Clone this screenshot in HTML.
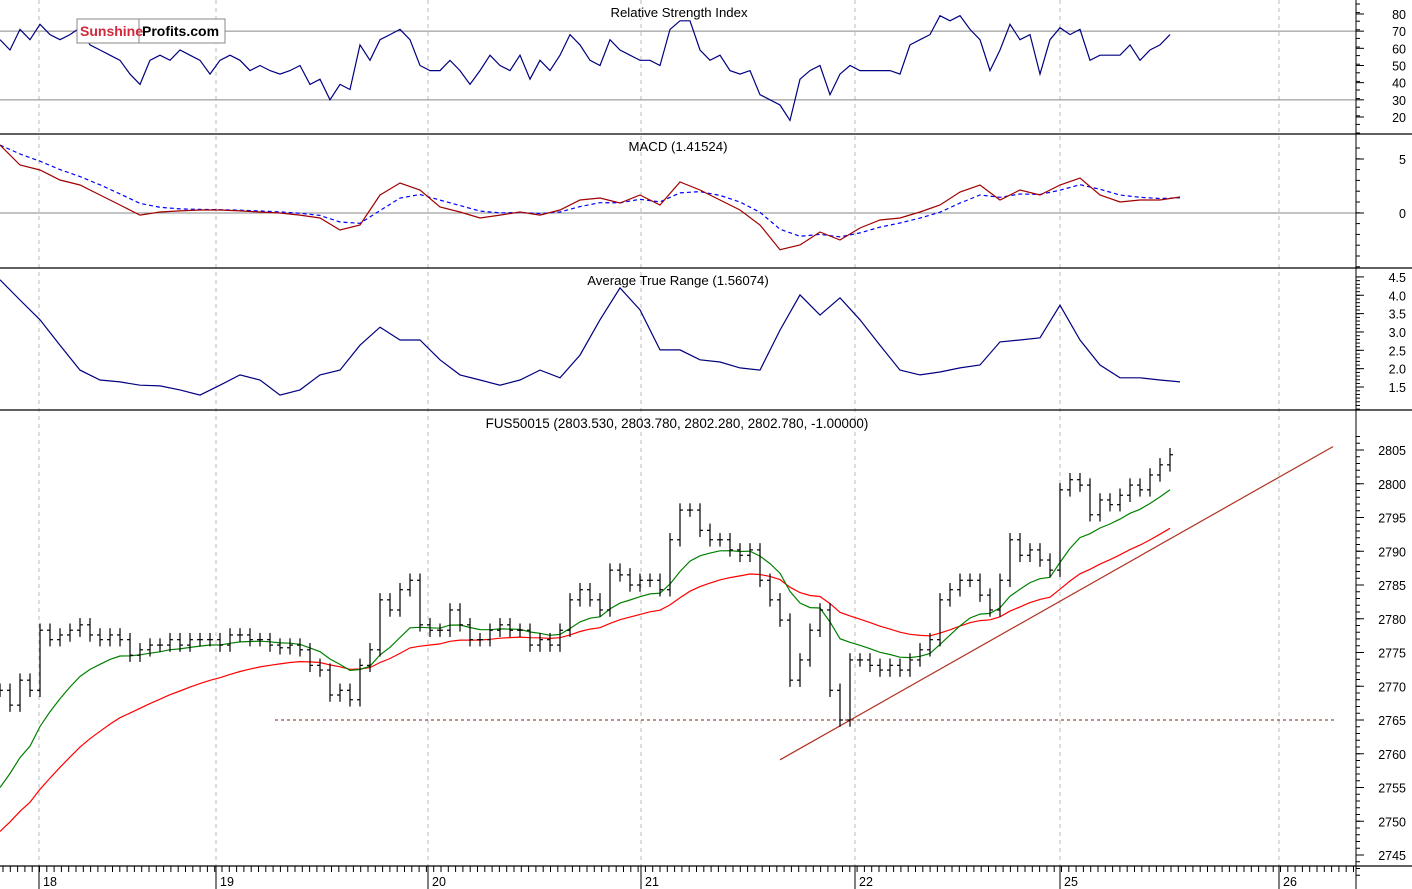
<!DOCTYPE html>
<html><head><meta charset="utf-8"><style>
html,body{margin:0;padding:0;background:#fff;}
svg{display:block;font-family:"Liberation Sans",Arial,sans-serif;}
</style></head><body>
<svg id="chart" width="1412" height="889" viewBox="0 0 1412 889" xmlns="http://www.w3.org/2000/svg">
<rect x="0" y="0" width="1412" height="889" fill="#fff"/>
<g id="grid"></g><g id="marks"></g><g id="axes"></g>
<g>
<rect x="77" y="19" width="148" height="24" fill="#fff" stroke="#888"/>
<line x1="139" y1="19" x2="139" y2="43" stroke="#888"/>
<text x="80" y="36" font-size="14" font-weight="bold" fill="#d0283c">Sunshine</text>
<text x="142" y="36" font-size="14" font-weight="bold" fill="#000">Profits.com</text>
</g>
</svg>
<script>
const dayLabels=["18","19","20","21","22","25","26"];
const dayX=[39,216,428,641,855,1060,1279];
const closes=[2769.4,2767.2,2770.9,2769.4,2778.3,2776.9,2777.6,2778.3,2779.1,2777.6,
2776.9,2777.6,2776.9,2774.6,2775.4,2776.1,2776.1,2776.9,2776.1,2776.9,
2776.9,2776.9,2776.1,2777.6,2777.6,2776.9,2776.9,2776.1,2775.7,2776.1,
2775.4,2773.1,2772.4,2768.7,2769.4,2768.0,2773.1,2775.4,2782.8,2781.3,
2784.3,2785.7,2779.1,2778.3,2778.3,2781.3,2779.1,2776.9,2776.9,2778.3,
2779.1,2778.3,2778.3,2776.1,2776.9,2776.1,2778.3,2782.8,2784.3,2782.8,
2781.3,2787.2,2786.5,2785.0,2785.7,2785.7,2784.3,2791.7,2796.1,2796.1,
2793.1,2791.7,2791.7,2790.2,2789.4,2790.2,2785.7,2782.8,2779.8,2770.9,
2773.9,2778.3,2781.3,2769.4,2765.0,2773.9,2773.9,2773.1,2772.4,2773.1,
2772.4,2773.9,2775.4,2776.9,2782.8,2784.3,2785.7,2785.7,2783.5,2781.3,
2785.7,2791.7,2789.4,2790.2,2788.7,2787.2,2799.1,2800.6,2799.8,2795.4,
2797.6,2796.9,2798.3,2799.8,2799.1,2801.3,2802.8,2804.3];
const rsi=[65,59,71,65,74,68,65,68,72,62,59,56,53,45,39,53,56,53,59,56,
53,45,53,56,53,47,50,47,45,47,50,39,42,30,39,36,62,53,65,68,
71,65,50,47,47,53,47,39,47,56,50,47,56,42,53,47,56,68,62,53,
50,65,59,56,53,53,50,71,76,76,59,53,56,47,45,47,33,30,27,18,
42,47,50,33,45,50,47,47,47,47,45,62,65,68,79,76,79,71,65,47,
59,74,65,68,45,65,72,68,71,53,56,56,56,62,53,59,62,68];
const macd=[6.30,4.44,3.98,3.06,2.59,1.67,0.74,-0.19,0.09,0.19,0.28,0.28,0.19,0.09,0,-0.19,-0.46,-1.57,-1.11,1.67,
2.78,2.13,0.56,0.09,-0.46,-0.19,0.09,-0.19,0.28,1.20,1.39,0.93,1.67,0.74,2.87,2.13,1.20,0.28,-1.11,-3.4,
-2.96,-1.76,-2.50,-1.39,-0.65,-0.46,0.09,0.74,1.94,2.59,1.20,2.13,1.67,2.59,3.24,1.67,1.02,1.20,1.20,1.48];
const atr=[4.42,3.87,3.33,2.64,1.96,1.69,1.64,1.55,1.53,1.42,1.28,1.55,1.83,1.69,1.28,1.42,1.83,1.96,2.64,3.13,
2.78,2.78,2.24,1.83,1.69,1.55,1.69,1.96,1.75,2.37,3.33,4.20,3.60,2.51,2.51,2.24,2.18,2.02,1.96,3.05,
4.01,3.46,3.93,3.33,2.64,1.96,1.83,1.91,2.02,2.10,2.73,2.78,2.84,3.73,2.78,2.10,1.75,1.75,1.69,1.64];
const priceTicks=[2805,2800,2795,2790,2785,2780,2775,2770,2765,2760,2755,2750,2745];
const rsiTicks=[80,70,60,50,40,30,20];
const macdTicks=[5,0];
const atrTicks=["4.5","4.0","3.5","3.0","2.5","2.0","1.5"];
const supportLevel=2765;
const trendStart=[78,2759.1], trendEnd=[133.3,2805.5];

const NS="http://www.w3.org/2000/svg";
const grid=document.getElementById('grid'),marks=document.getElementById('marks'),axes=document.getElementById('axes');
function el(tag,attrs,parent){const e=document.createElementNS(NS,tag);for(const k in attrs)e.setAttribute(k,attrs[k]);parent.appendChild(e);return e;}
const xi=i=>i*10;
const x20=i=>i*20;
const yP=p=>450+(2805-p)*6.75;
const yR=v=>117-(v-20)*1.717;
const yM=v=>213-v*10.8;
const yA=v=>387-(v-1.5)*36.7;
const AX=1356;

dayX.forEach((x,i)=>{const l=el('line',{x1:x,y1:0,x2:x,y2:866,stroke:'#bbb','stroke-dasharray':'4,4'},grid);

});
[70,30].forEach(v=>{const l=el('line',{x1:0,y1:yR(v),x2:AX,y2:yR(v),stroke:'#888'},grid);

});
{const l=el('line',{x1:0,y1:yM(0),x2:AX,y2:yM(0),stroke:'#888'},grid);

}

[134,268,410,866].forEach(y=>{const l=el('line',{x1:0,y1:y,x2:1412,y2:y,stroke:'#000','stroke-width':1.3},axes);

});
{const l=el('line',{x1:AX,y1:0,x2:AX,y2:889,stroke:'#000'},axes);

}

function addText(x,y,s,name,anchor,size){const t=el('text',{x:x,y:y,'font-size':size||12,'text-anchor':anchor||'middle',fill:'#000'},axes);t.textContent=s;

return t;}
addText(679,17,'Relative Strength Index','rsi-title','middle',13.2);
addText(678,151,'MACD (1.41524)','macd-title','middle',13.2);
addText(678,285,'Average True Range (1.56074)','atr-title','middle',13.2);
addText(677,428,'FUS50015 (2803.530, 2803.780, 2802.280, 2802.780, -1.00000)','price-title','middle',13.4);

function tickLabels(ticks,yf,name){ticks.forEach(t=>{const y=yf(+t);el('line',{x1:AX,y1:y,x2:AX+8,y2:y,stroke:'#000'},axes);
addText(1406,y+5,String(t),name,'end',12.5);});}
tickLabels(rsiTicks,yR,'rsi-tick-label');
tickLabels(macdTicks,yM,'macd-tick-label');
tickLabels(atrTicks,yA,'atr-tick-label');
tickLabels(priceTicks,yP,'price-tick-label');
for(let y=4;y<134;y+=8.6)el('line',{x1:AX,y1:y,x2:AX+4,y2:y,stroke:'#000'},axes);
for(let y=148;y<268;y+=10.8)el('line',{x1:AX,y1:y,x2:AX+4,y2:y,stroke:'#000'},axes);
for(let y=277;y<410;y+=3.67)el('line',{x1:AX,y1:y,x2:AX+4,y2:y,stroke:'#000'},axes);
for(let p=2807;p>=2742;p--)el('line',{x1:AX,y1:yP(p),x2:AX+4,y2:yP(p),stroke:'#000'},axes);
for(let x=3;x<AX;x+=7.3)el('line',{x1:x,y1:866,x2:x,y2:872,stroke:'#000'},axes);
dayX.forEach((x,i)=>{el('line',{x1:x,y1:866,x2:x,y2:889,stroke:'#000'},axes);
addText(x+4,886,dayLabels[i],'date-label','start',12.5);});

function poly(pts,stroke,name,extra){const a=Object.assign({points:pts.join(' '),fill:'none',stroke:stroke,'stroke-width':1.2},extra||{});const p=el('polyline',a,marks);

return p;}

poly(rsi.map((v,i)=>xi(i)+','+yR(v).toFixed(1)),'#000080','rsi-line');
const sig=[];macd.forEach((v,i)=>sig.push(i?sig[i-1]+0.45*(v-sig[i-1]):v));
poly(sig.map((v,i)=>x20(i)+','+yM(v).toFixed(1)),'#0000ff','macd-signal-line',{'stroke-dasharray':'4,3'});
poly(macd.map((v,i)=>x20(i)+','+yM(v).toFixed(1)),'#a00000','macd-line');
poly(atr.map((v,i)=>x20(i)+','+yA(v).toFixed(1)),'#000080','atr-line');

{const l=el('line',{x1:275,y1:yP(supportLevel),x2:1335,y2:yP(supportLevel),stroke:'#802010','stroke-dasharray':'3,3'},marks);

}
{const l=el('line',{x1:xi(trendStart[0]),y1:yP(trendStart[1]),x2:xi(trendEnd[0]),y2:yP(trendEnd[1]),stroke:'#b03020','stroke-width':1.2},marks);

}

const g=[],r=[];closes.forEach((c,i)=>{g.push(i?g[i-1]+0.17*(c-g[i-1]):2755);r.push(i?r[i-1]+0.075*(c-r[i-1]):2748.5);});
poly(r.map((v,i)=>xi(i)+','+yP(v).toFixed(1)),'#ff0000','ma-slow-line');
poly(g.map((v,i)=>xi(i)+','+yP(v).toFixed(1)),'#008000','ma-fast-line');

closes.forEach((c,i)=>{const o=i?closes[i-1]:c;const hi=Math.max(o,c)+1,lo=Math.min(o,c)-1;const x=xi(i);
const gr=el('g',{stroke:'#000','stroke-width':1.2},marks);


el('line',{x1:x,y1:yP(hi),x2:x,y2:yP(lo)},gr);
el('line',{x1:x-3,y1:yP(o),x2:x,y2:yP(o)},gr);
el('line',{x1:x,y1:yP(c),x2:x+3,y2:yP(c)},gr);});
</script>
</body></html>
